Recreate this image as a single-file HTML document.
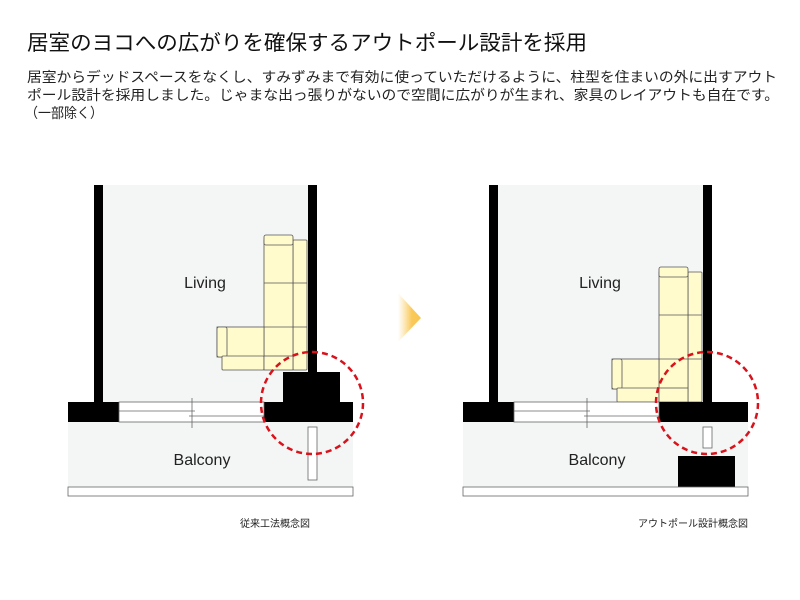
<!DOCTYPE html>
<html><head><meta charset="utf-8"><style>
html,body{margin:0;padding:0;background:#fff}
svg{display:block}
text{font-family:"Liberation Sans","Noto Sans CJK JP",sans-serif}
</style></head><body>
<svg width="800" height="600" viewBox="0 0 800 600" xmlns="http://www.w3.org/2000/svg">
<defs>
<linearGradient id="ag" x1="0" x2="1" y1="0" y2="0">
<stop offset="0" stop-color="#fbd070" stop-opacity="0"/>
<stop offset="0.6" stop-color="#f9c95a"/>
<stop offset="1" stop-color="#f8c550"/>
</linearGradient>
</defs>
<text x="27" y="50" font-size="21" fill="#111" textLength="560" lengthAdjust="spacingAndGlyphs" font-family="'Liberation Sans','Noto Sans CJK JP',sans-serif">居室のヨコへの広がりを確保するアウトポール設計を採用</text>
<text x="27" y="82" font-size="14" fill="#222" textLength="750" lengthAdjust="spacingAndGlyphs">居室からデッドスペースをなくし、すみずみまで有効に使っていただけるように、柱型を住まいの外に出すアウト</text>
<text x="27" y="100" font-size="14" fill="#222" textLength="752" lengthAdjust="spacingAndGlyphs">ポール設計を採用しました。じゃまな出っ張りがないので空間に広がりが生まれ、家具のレイアウトも自在です。</text>
<text x="25" y="118" font-size="14" fill="#222" textLength="78" lengthAdjust="spacingAndGlyphs">（一部除く）</text>

<!-- Left diagram -->
<g>
<rect x="103" y="185" width="205" height="217" fill="#f4f5f5"/>
<rect x="68" y="422" width="285" height="65" fill="#f4f5f5"/>
<rect x="94" y="185" width="9" height="218" fill="#000"/>
<rect x="308" y="185" width="9" height="188" fill="#000"/>
<!-- sofa -->
<g fill="#fffbcc" stroke="#555" stroke-width="0.8">
<rect x="293" y="240" width="14" height="130" rx="1"/>
<rect x="264" y="240" width="29" height="120"/>
<rect x="264" y="235" width="29" height="10" rx="2"/>
<rect x="217" y="327" width="47" height="30"/>
<rect x="217" y="327" width="10" height="30" rx="2"/>
<rect x="222" y="356" width="42" height="14" rx="1"/>
<rect x="264" y="356" width="29" height="14"/>
<line x1="264" y1="283" x2="307" y2="283"/>
<line x1="264" y1="327" x2="307" y2="327"/>
</g>
<rect x="283" y="372" width="57" height="31" fill="#000"/>
<rect x="68" y="402" width="51" height="20" fill="#000"/>
<rect x="264" y="402" width="89" height="20" fill="#000"/>
<g fill="#fff" stroke="#666" stroke-width="0.8">
<rect x="119" y="402" width="145" height="20"/>
<line x1="119" y1="411" x2="195" y2="411"/>
<line x1="189" y1="416" x2="264" y2="416"/>
<line x1="192" y1="398" x2="192" y2="428"/>
<rect x="308" y="427" width="9" height="53"/>
<rect x="68" y="487" width="285" height="9"/>
</g>
<circle cx="312" cy="403" r="51" fill="none" stroke="#d9121b" stroke-width="2.5" stroke-dasharray="6,4"/>
<text x="205" y="288" font-size="16" fill="#222" text-anchor="middle">Living</text>
<text x="202" y="465" font-size="16" fill="#222" text-anchor="middle">Balcony</text>
<text x="310" y="527" font-size="10" fill="#222" text-anchor="end">従来工法概念図</text>
</g>

<!-- Arrow -->
<polygon points="398,293 421,318 398,342" fill="url(#ag)"/>

<!-- Right diagram -->
<g>
<rect x="498" y="185" width="205" height="217" fill="#f4f5f5"/>
<rect x="463" y="422" width="285" height="65" fill="#f4f5f5"/>
<rect x="489" y="185" width="9" height="218" fill="#000"/>
<rect x="703" y="185" width="9" height="218" fill="#000"/>
<g fill="#fffbcc" stroke="#555" stroke-width="0.8">
<rect x="688" y="272" width="14" height="130" rx="1"/>
<rect x="659" y="272" width="29" height="120"/>
<rect x="659" y="267" width="29" height="10" rx="2"/>
<rect x="612" y="359" width="47" height="30"/>
<rect x="612" y="359" width="10" height="30" rx="2"/>
<rect x="617" y="388" width="42" height="14" rx="1"/>
<rect x="659" y="388" width="29" height="14"/>
<line x1="659" y1="315" x2="702" y2="315"/>
<line x1="659" y1="359" x2="702" y2="359"/>
</g>
<rect x="463" y="402" width="51" height="20" fill="#000"/>
<rect x="659" y="402" width="89" height="20" fill="#000"/>
<rect x="678" y="456" width="57" height="31" fill="#000"/>
<g fill="#fff" stroke="#666" stroke-width="0.8">
<rect x="514" y="402" width="145" height="20"/>
<line x1="514" y1="411" x2="590" y2="411"/>
<line x1="584" y1="416" x2="659" y2="416"/>
<line x1="587" y1="398" x2="587" y2="428"/>
<rect x="703" y="427" width="9" height="21"/>
<rect x="463" y="487" width="285" height="9"/>
</g>
<circle cx="707" cy="403" r="51" fill="none" stroke="#d9121b" stroke-width="2.5" stroke-dasharray="6,4"/>
<text x="600" y="288" font-size="16" fill="#222" text-anchor="middle">Living</text>
<text x="597" y="465" font-size="16" fill="#222" text-anchor="middle">Balcony</text>
<text x="748" y="527" font-size="10" fill="#222" text-anchor="end">アウトポール設計概念図</text>
</g>
</svg>
</body></html>
